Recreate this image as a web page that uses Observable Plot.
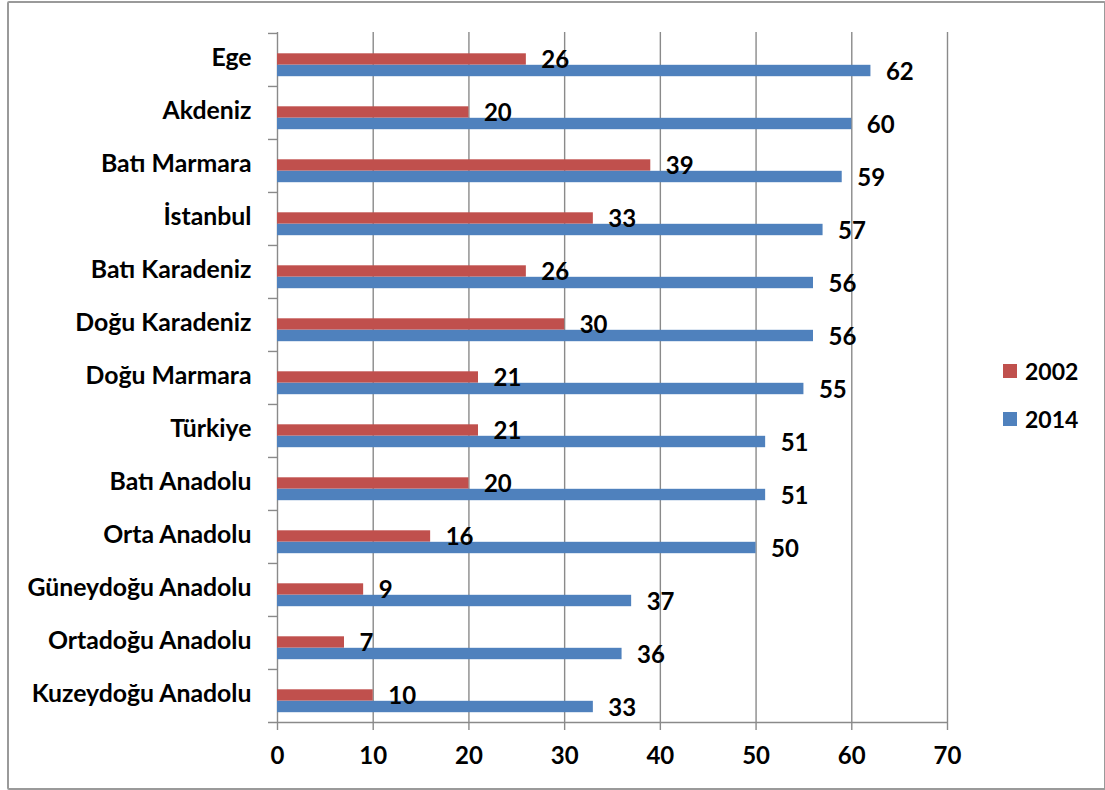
<!DOCTYPE html>
<html>
<head>
<meta charset="utf-8">
<script src="https://cdn.jsdelivr.net/npm/d3@7"></script>
<script src="https://cdn.jsdelivr.net/npm/@observablehq/plot@0.6"></script>
<style>
  html, body { margin: 0; padding: 0; background: #fff; }
  #wrap { position: relative; width: 1105px; height: 790px; font-family: Lato, "Open Sans", sans-serif; font-weight: 700; }
  #frame { position: absolute; left: 7px; top: 1px; width: 1095px; height: 785px; border: 2px solid #9a9a9a; border-radius: 2px; box-sizing: content-box; pointer-events: none; }
  #chart { position: absolute; left: 0; top: 0; }
  .legend { position: absolute; left: 1003px; display: flex; align-items: center; font-size: 23px; color: #000; }
  .legend span.sw { display: inline-block; width: 14px; height: 14px; margin-right: 8px; }
</style>
</head>
<body>
<div id="wrap">
  <div id="chart"></div>
  <div id="frame"></div>
</div>
<script>
// Regions, top to bottom
const categories = [
  "Ege", "Akdeniz", "Batı Marmara", "İstanbul", "Batı Karadeniz",
  "Doğu Karadeniz", "Doğu Marmara", "Türkiye", "Batı Anadolu",
  "Orta Anadolu", "Güneydoğu Anadolu", "Ortadoğu Anadolu", "Kuzeydoğu Anadolu"
];
const values2002 = [26, 20, 39, 33, 26, 30, 21, 21, 20, 16, 9, 7, 10];
const values2014 = [62, 60, 59, 57, 56, 56, 55, 51, 51, 50, 37, 36, 33];
const xTicks = [0, 10, 20, 30, 40, 50, 60, 70];
const seriesNames = ["2002", "2014"];
const seriesColors = ["#C0504D", "#4F81BD"];

const rows2002 = categories.map((c, i) => ({region: c, value: values2002[i]}));
const rows2014 = categories.map((c, i) => ({region: c, value: values2014[i]}));

const width = 1105, height = 790;
const margin = {left: 277, right: 158, top: 32, bottom: 68};
const plotW = width - margin.left - margin.right;
const band = (height - margin.top - margin.bottom) / categories.length;
const grid = "#8a8a8a";
const fontSize = 24;

const chart = Plot.plot({
  width, height,
  marginLeft: margin.left, marginRight: margin.right,
  marginTop: margin.top, marginBottom: margin.bottom,
  style: {fontFamily: "Lato, 'Open Sans', sans-serif", fontWeight: 700, fontSize: fontSize + "px", color: "#000", background: "transparent"},
  x: {domain: [0, 70], ticks: xTicks, label: null},
  y: {domain: categories, padding: 0, label: null},
  marks: [
    // vertical gridlines
    Plot.ruleX(xTicks.slice(1), {stroke: grid, strokeWidth: 1.4}),
    // category axis line
    Plot.ruleX([0], {stroke: grid, strokeWidth: 1.4}),
    // category boundary ticks
    Plot.tickY(categories, {y: d => d, dy: -band / 2, insetLeft: -9, insetRight: plotW, stroke: grid, strokeWidth: 1.4}),
    // value axis line along the bottom
    Plot.tickY(categories.slice(-1), {y: d => d, dy: band / 2, insetLeft: -9, stroke: grid, strokeWidth: 1.4}),
    // bars
    Plot.barX(rows2002, {x: "value", y: "region", fill: seriesColors[0], insetTop: 20.3, insetBottom: 21.3}),
    Plot.barX(rows2014, {x: "value", y: "region", fill: seriesColors[1], insetTop: 31.8, insetBottom: 9.8}),
    // value labels
    Plot.text(rows2002, {x: "value", y: "region", text: d => String(d.value), textAnchor: "start", dx: 15, dy: 0.5, fill: "#000"}),
    Plot.text(rows2014, {x: "value", y: "region", text: d => String(d.value), textAnchor: "start", dx: 15, dy: 12, fill: "#000"}),
    // axes
    Plot.axisX({ticks: xTicks, tickSize: 8, tickPadding: 16, stroke: grid, strokeWidth: 1.4, fill: "#000", label: null}),
    Plot.axisY({tickSize: 0, tickPadding: 26, fill: "#000", label: null, dy: -1.5, fontSize: 24.8})
  ]
});
document.getElementById("chart").appendChild(chart);

// Legend on the right
const wrap = document.getElementById("wrap");
const legendTops = [371, 419];
seriesNames.forEach((name, i) => {
  const item = document.createElement("div");
  item.className = "legend";
  item.style.top = (legendTops[i] - 14) + "px";
  item.style.height = "28px";
  item.innerHTML = `<span class="sw" style="background:${seriesColors[i]}"></span><span>${name}</span>`;
  wrap.appendChild(item);
});
</script>
</body>
</html>
